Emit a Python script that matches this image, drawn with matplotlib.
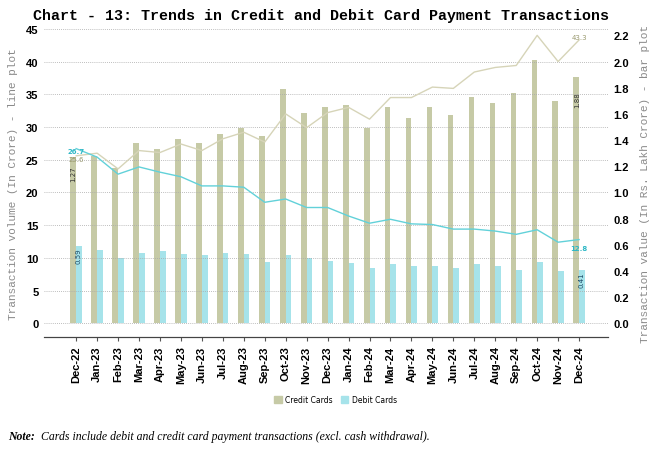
import numpy as np
import matplotlib
matplotlib.use("Agg")
import matplotlib.pyplot as plt
from matplotlib.patches import Patch

# months on the x axis
months = ["Dec-22", "Jan-23", "Feb-23", "Mar-23", "Apr-23", "May-23", "Jun-23",
          "Jul-23", "Aug-23", "Sep-23", "Oct-23", "Nov-23", "Dec-23", "Jan-24",
          "Feb-24", "Mar-24", "Apr-24", "May-24", "Jun-24", "Jul-24", "Aug-24",
          "Sep-24", "Oct-24", "Nov-24", "Dec-24"]

# transaction value, Rs. lakh crore (bars, right axis)
credit_value = [1.27, 1.28, 1.19, 1.38, 1.33, 1.41, 1.38, 1.45, 1.49, 1.43,
                1.79, 1.61, 1.65, 1.67, 1.49, 1.65, 1.57, 1.65, 1.59, 1.73,
                1.68, 1.76, 2.01, 1.70, 1.88]
debit_value = [0.59, 0.56, 0.50, 0.54, 0.55, 0.53, 0.52, 0.54, 0.53, 0.47,
               0.52, 0.50, 0.48, 0.46, 0.42, 0.45, 0.44, 0.44, 0.42, 0.45,
               0.44, 0.41, 0.47, 0.40, 0.41]

# transaction volume, crore (lines, left axis)
credit_volume = [25.6, 26.0, 23.6, 26.4, 26.1, 27.4, 26.4, 28.2, 29.2, 27.7,
                 32.0, 29.9, 32.2, 33.0, 31.2, 34.5, 34.5, 36.1, 35.9, 38.4,
                 39.1, 39.4, 44.0, 40.0, 43.3]
debit_volume = [26.7, 25.4, 22.8, 23.9, 23.1, 22.4, 21.0, 21.0, 20.8, 18.5,
                19.0, 17.7, 17.7, 16.4, 15.3, 15.9, 15.2, 15.1, 14.4, 14.4,
                14.1, 13.6, 14.3, 12.4, 12.8]

credit_bar = "#c6caa6"
debit_bar = "#a6e3ea"
credit_line = "#d6d4b8"
debit_line = "#62d1d9"
mono = "Liberation Mono"

fig = plt.figure(figsize=(6.58, 4.52), dpi=100)
ax = fig.add_axes([0.067, 0.252, 0.857, 0.682])
ax2 = ax.twinx()

x = np.arange(len(months))
w = 0.27

# bars on the right (value) axis
ax2.bar(x - w / 2, credit_value, width=w, color=credit_bar, zorder=2)
ax2.bar(x + w / 2, debit_value, width=w, color=debit_bar, zorder=2)
ax2.set_ylim(-0.105, 2.25)
ax2.set_yticks(np.arange(0, 2.21, 0.2))
ax2.set_yticklabels([f"{v:.1f}" for v in np.arange(0, 2.21, 0.2)],
                    fontweight="bold", fontsize=8, family="Liberation Sans")
ax2.tick_params(axis="y", length=0, pad=4)

# lines on the left (volume) axis, drawn above the bars
ax.set_zorder(ax2.get_zorder() + 1)
ax.patch.set_visible(False)
ax.plot(x, credit_volume, color=credit_line, lw=1.0, zorder=3)
ax.plot(x, debit_volume, color=debit_line, lw=1.0, zorder=3)
ax.set_ylim(-2.1, 45)
ax.set_yticks(np.arange(0, 46, 5))
ax.set_yticklabels([str(v) for v in range(0, 46, 5)],
                   fontweight="bold", fontsize=8, family="Liberation Sans")
ax.tick_params(axis="y", length=0, pad=4)
ax.grid(axis="y", linestyle=(0, (1, 1.5)), color="#a8a8a8", lw=0.6)
ax.set_xlim(-1.53, 25.38)
ax.set_xticks(x)
ax.set_xticklabels(months, rotation=90, fontweight="bold", fontsize=8,
                   family="Liberation Sans")
ax.tick_params(axis="x", length=3, color="#555555", pad=3)

for a in (ax, ax2):
    for s in ("top", "left", "right"):
        a.spines[s].set_visible(False)
    a.spines["bottom"].set_color("#444444")

ax.set_ylabel("Transaction volume (In Crore) - line plot", family=mono,
              color="#8a8a8a", fontsize=8, labelpad=6)
ax2.set_ylabel("Transaction value (In Rs. Lakh Crore) - bar plot", family=mono,
               color="#8a8a8a", fontsize=8, labelpad=8)

# data labels at the first and last month
ax.text(0, 26.4, "26.7", color="#2fb8c6", fontsize=5,
        ha="center", va="center", fontweight="bold")
ax.text(0, 25.1, "25.6", color="#9a9a70", fontsize=5,
        ha="center", va="center")
ax.text(24.0, 43.8, "43.3", color="#9a9a70", fontsize=5,
        ha="center", va="center")
ax.text(24.0, 12.0, "12.8", color="#2fb8c6", fontsize=5,
        ha="center", va="top", fontweight="bold")
ax2.text(-w / 2, 1.21, "1.27", rotation=90, fontsize=5,
         ha="center", va="top", color="#333333")
ax2.text(w / 2, debit_value[0] - 0.01, "0.59", rotation=90, fontsize=5,
         ha="center", va="top", color="#1d4a66")
ax2.text(24 - w / 2 + 0.05, 1.77, "1.88", rotation=90, fontsize=5,
         ha="center", va="top", color="#333333")
ax2.text(24 + w / 2, debit_value[-1] - 0.01, "0.41", rotation=90, fontsize=5,
         ha="center", va="top", color="#1d4a66")

fig.text(0.488, 0.964, "Chart - 13: Trends in Credit and Debit Card Payment Transactions",
         family=mono, fontweight="bold", fontsize=10.8, ha="center", va="center")

handles = [Patch(color=credit_bar), Patch(color=debit_bar)]
fig.legend(handles, ["Credit Cards", "Debit Cards"], loc="center",
           bbox_to_anchor=(0.51, 0.113), ncol=2, frameon=False, fontsize=5.5,
           handlelength=1.0, handleheight=1.0, columnspacing=1.0, handletextpad=0.5)

fig.text(0.012, 0.033, "Note:", family="Liberation Serif", style="italic",
         fontweight="bold", fontsize=8.5, va="center")
fig.text(0.062, 0.033,
         "Cards include debit and credit card payment transactions (excl. cash withdrawal).",
         family="Liberation Serif", style="italic", fontsize=8.5, va="center")

fig.savefig("out.png", dpi=100)
